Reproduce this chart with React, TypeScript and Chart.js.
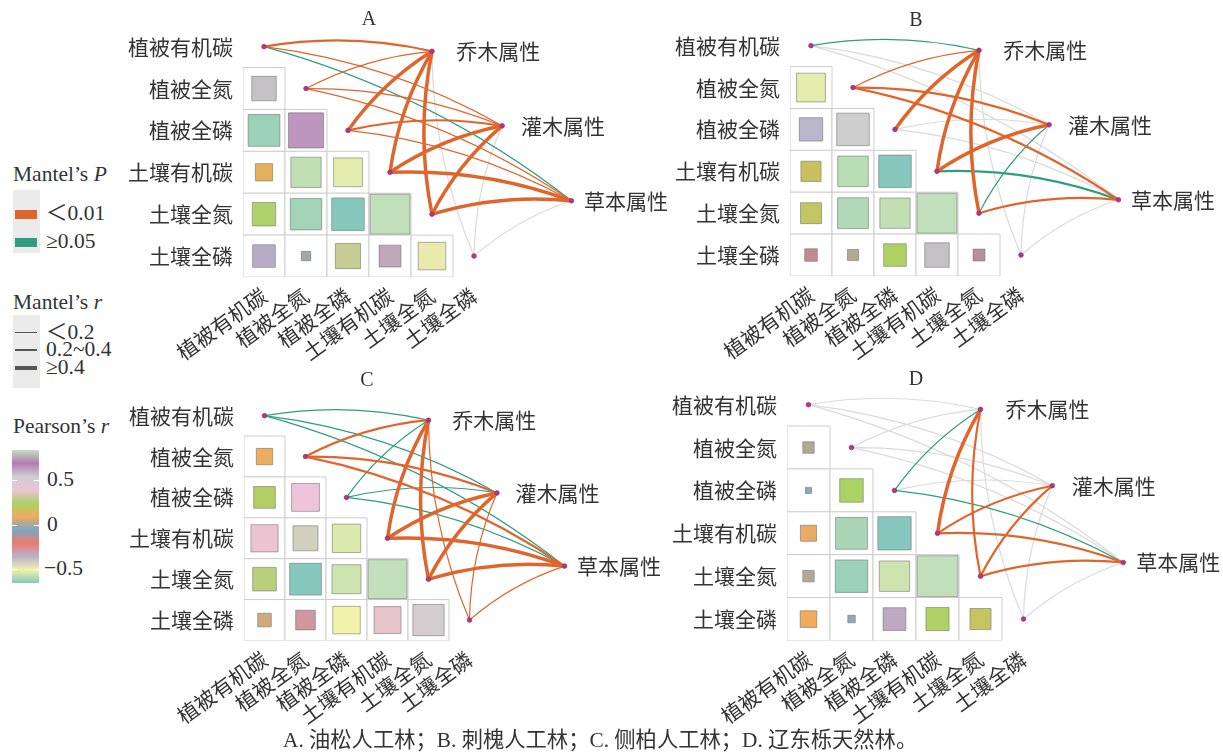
import React, { useEffect, useRef } from "react";
import { Chart, registerables } from "chart.js";

Chart.register(...registerables);

// ---------------- data ----------------
const ENV_VARS = ["植被有机碳", "植被全氮", "植被全磷", "土壤有机碳", "土壤全氮", "土壤全磷"];
const TARGETS = ["乔木属性", "灌木属性", "草本属性"];
const PANEL_TITLES = ["A", "B", "C", "D"];
const CAPTION = "A. 油松人工林；B. 刺槐人工林；C. 侧柏人工林；D. 辽东栎天然林。";

// Pearson's r, lower triangle read row by row:
// (全氮,有机碳) (全磷,有机碳) (全磷,全氮) (土壤有机碳,…×3) (土壤全氮,…×4) (土壤全磷,…×5)
const PEARSON_A = [-0.34, -0.57, 0.7, 0.17, -0.52, -0.47, 0.31, -0.56, -0.6, 0.9, -0.29, 0.05, 0.36, -0.27, -0.43];
const PEARSON_B = [-0.47, -0.31, 0.6, 0.23, -0.53, -0.6, 0.25, -0.54, -0.52, 0.9, -0.09, 0.07, 0.29, -0.34, -0.08];
const PEARSON_C = [0.16, 0.28, 0.46, 0.44, -0.37, -0.48, 0.33, -0.6, -0.5, 0.9, 0.11, -0.23, -0.45, 0.43, 0.58];
const PEARSON_D = [0.07, 0.02, 0.3, 0.14, -0.55, -0.6, 0.07, -0.57, -0.5, 0.9, 0.15, 0.03, -0.28, 0.29, 0.24];

// Mantel tests: for each environment variable, links to 乔木 / 灌木 / 草本
const MANTEL_P_A = [
  "<0.01", "<0.01", "≥0.05",
  "<0.01", "<0.01", "<0.01",
  "<0.01", "<0.01", "<0.01",
  "<0.01", "<0.01", "<0.01",
  "<0.01", "<0.01", "<0.01",
  "ns", "ns", "ns",
];
const MANTEL_R_A = [
  "0.2~0.4", "<0.2", "<0.2",
  "<0.2", "<0.2", "<0.2",
  "≥0.4", "0.2~0.4", "<0.2",
  "≥0.4", "≥0.4", "≥0.4",
  "≥0.4", "≥0.4", "≥0.4",
  "<0.2", "<0.2", "<0.2",
];
const MANTEL_P_B = [
  "≥0.05", "ns", "ns",
  "<0.01", "<0.01", "<0.01",
  "<0.01", "ns", "ns",
  "<0.01", "<0.01", "≥0.05",
  "<0.01", "≥0.05", "<0.01",
  "ns", "ns", "ns",
];
const MANTEL_R_B = [
  "<0.2", "<0.2", "<0.2",
  "<0.2", "0.2~0.4", "0.2~0.4",
  "≥0.4", "<0.2", "<0.2",
  "≥0.4", "≥0.4", "0.2~0.4",
  "≥0.4", "<0.2", "0.2~0.4",
  "<0.2", "<0.2", "<0.2",
];
const MANTEL_P_C = [
  "≥0.05", "≥0.05", "≥0.05",
  "<0.01", "<0.01", "<0.01",
  "≥0.05", "≥0.05", "≥0.05",
  "<0.01", "<0.01", "<0.01",
  "<0.01", "<0.01", "<0.01",
  "<0.01", "<0.01", "<0.01",
];
const MANTEL_R_C = [
  "<0.2", "<0.2", "<0.2",
  "0.2~0.4", "0.2~0.4", "0.2~0.4",
  "<0.2", "<0.2", "<0.2",
  "≥0.4", "≥0.4", "≥0.4",
  "≥0.4", "≥0.4", "≥0.4",
  "<0.2", "<0.2", "<0.2",
];
const MANTEL_P_D = [
  "ns", "ns", "ns",
  "ns", "ns", "ns",
  "≥0.05", "ns", "≥0.05",
  "<0.01", "<0.01", "<0.01",
  "<0.01", "<0.01", "<0.01",
  "ns", "ns", "ns",
];
const MANTEL_R_D = [
  "<0.2", "<0.2", "<0.2",
  "<0.2", "<0.2", "<0.2",
  "<0.2", "<0.2", "<0.2",
  "≥0.4", "0.2~0.4", "0.2~0.4",
  "0.2~0.4", "0.2~0.4", "0.2~0.4",
  "<0.2", "<0.2", "<0.2",
];

const COLORBAR_TICKS = [0.5, 0, -0.5];

const PANELS = [
  { pearson: PEARSON_A, p: MANTEL_P_A, r: MANTEL_R_A },
  { pearson: PEARSON_B, p: MANTEL_P_B, r: MANTEL_R_B },
  { pearson: PEARSON_C, p: MANTEL_P_C, r: MANTEL_R_C },
  { pearson: PEARSON_D, p: MANTEL_P_D, r: MANTEL_R_D },
];

// ---------------- layout & style ----------------
// node positions for the three plant groups, in grid units of the heatmap
const TARGET_POS = [
  [4.0, 0.11],
  [5.67, 1.89],
  [7.32, 3.68],
];
const TARGET_LABEL_X = [4.58, 6.12, 7.62];
const PANEL_LAYOUT = [
  { ox: 264.3, oy: 45.7, u: 42, right: 690, titleY: -0.64 },
  { ox: 811, oy: 45, u: 42, right: 1223, titleY: -0.6 },
  { ox: 264, oy: 415.3, u: 41, right: 690, titleY: -0.86 },
  { ox: 808.7, oy: 404.3, u: 43, right: 1223, titleY: -0.57 },
];
const WY = 130;
const PAD_TOP = 4;
const HX = 95;
const X_MAX = 9;
const CURVE = 0.1;

const PALETTE = ["#8DD3C7", "#FFFFB3", "#BEBADA", "#FB8072", "#80B1D3", "#FDB462", "#B3DE69", "#FCCDE5", "#D9D9D9", "#BC80BD", "#CCEBC5"];
const SHADE = 0.95;
const R_MIN = -0.6;
const R_MAX = 0.9;
const P_COLORS: Record<string, string> = { "<0.01": "#e0652c", "≥0.05": "#2f9e7f", ns: "#dadada" };
const R_WIDTHS: Record<string, number> = { "<0.2": 1.2, "0.2~0.4": 2.2, "≥0.4": 3.5 };
const CJK = '"Noto Sans CJK SC", "Liberation Serif", sans-serif';
const SERIF = '"Liberation Serif", "Noto Sans CJK SC", serif';
const TEXT = "#333";

function hexToRgb(h: string) {
  const n = parseInt(h.slice(1), 16);
  return [(n >> 16) & 255, (n >> 8) & 255, n & 255];
}
function shaded(rgb: number[]) {
  return `rgb(${rgb.map((v) => Math.round(v * SHADE)).join(",")})`;
}
function colorFor(r: number) {
  const t = Math.min(1, Math.max(0, (r - R_MIN) / (R_MAX - R_MIN))) * (PALETTE.length - 1);
  const i = Math.min(PALETTE.length - 2, Math.floor(t));
  const f = t - i;
  const a = hexToRgb(PALETTE[i]);
  const b = hexToRgb(PALETTE[i + 1]);
  return shaded(a.map((v, k) => v + (b[k] - v) * f));
}

function makePlugin(index: number) {
  const panel = PANELS[index];
  const lay = PANEL_LAYOUT[index];
  return {
    id: "mantelLinks" + index,
    beforeDatasetsDraw(chart: any) {
      const { ctx } = chart;
      const xs = chart.scales.x;
      const ys = chart.scales.y;
      ctx.save();
      ctx.lineCap = "round";
      for (const cat of ["ns", "≥0.05", "<0.01"]) {
        ENV_VARS.forEach((_, i) => {
          TARGETS.forEach((__, k) => {
            const idx = i * TARGETS.length + k;
            if (panel.p[idx] !== cat) return;
            const x0 = xs.getPixelForValue(i);
            const y0 = ys.getPixelForValue(i);
            const x1 = xs.getPixelForValue(TARGET_POS[k][0]);
            const y1 = ys.getPixelForValue(TARGET_POS[k][1]);
            const dx = x1 - x0;
            const dy = y1 - y0;
            const len = Math.hypot(dx, dy) || 1;
            const cx = (x0 + x1) / 2 + (dy / len) * CURVE * len;
            const cy = (y0 + y1) / 2 - (dx / len) * CURVE * len;
            ctx.beginPath();
            ctx.moveTo(x0, y0);
            ctx.quadraticCurveTo(cx, cy, x1, y1);
            ctx.strokeStyle = P_COLORS[cat];
            ctx.lineWidth = R_WIDTHS[panel.r[idx]];
            ctx.stroke();
          });
        });
      }
      ctx.restore();
    },
    afterDraw(chart: any) {
      const { ctx } = chart;
      const xs = chart.scales.x;
      const ys = chart.scales.y;
      ctx.save();
      ctx.fillStyle = TEXT;
      ctx.textBaseline = "middle";
      ctx.textAlign = "left";
      ctx.font = `21px ${CJK}`;
      TARGETS.forEach((name, k) => {
        ctx.fillText(name, xs.getPixelForValue(TARGET_LABEL_X[k]), ys.getPixelForValue(TARGET_POS[k][1]));
      });
      ctx.textAlign = "center";
      ctx.font = `20px ${SERIF}`;
      ctx.fillText(PANEL_TITLES[index], xs.getPixelForValue(2.5), ys.getPixelForValue(lay.titleY));
      ctx.restore();
    },
  };
}

function Panel({ index }: { index: number }) {
  const ref = useRef<HTMLCanvasElement | null>(null);
  const lay = PANEL_LAYOUT[index];
  const L = Math.round(lay.ox - 0.5 * lay.u - WY);
  const T = Math.round(lay.oy - lay.u - PAD_TOP);
  const W = lay.right - L;
  const H = Math.round(PAD_TOP + 6.5 * lay.u + HX);
  const hx = H - PAD_TOP - 6.5 * lay.u;
  const padRight = W - WY - (X_MAX + 0.5) * lay.u;

  useEffect(() => {
    const panel = PANELS[index];
    const cells: { x: number; y: number; r: number }[] = [];
    let k = 0;
    for (let i = 1; i < ENV_VARS.length; i++) {
      for (let j = 0; j < i; j++) cells.push({ x: j, y: i, r: panel.pearson[k++] });
    }
    const boxes = cells.map((c) => ({ ...c }));
    const unitPx = (c: any) => Math.abs(c.scales.x.getPixelForValue(1) - c.scales.x.getPixelForValue(0));
    const nodes = ENV_VARS.map((_, i) => ({ x: i, y: i }));
    const targets = TARGET_POS.map(([x, y]) => ({ x, y }));
    const chart = new Chart(ref.current as HTMLCanvasElement, {
      type: "scatter",
      data: {
        datasets: [
          {
            order: 3,
            data: boxes,
            pointStyle: "rect",
            pointRadius: (ctx: any) => unitPx(ctx.chart) / Math.SQRT2,
            pointBackgroundColor: "#ffffff",
            pointBorderColor: "#cdcdcd",
            pointBorderWidth: 1,
          },
          {
            order: 2,
            data: cells,
            pointStyle: "rect",
            pointRadius: (ctx: any) =>
              ctx.raw ? (unitPx(ctx.chart) * Math.sqrt(Math.abs(ctx.raw.r))) / Math.SQRT2 : 0,
            pointBackgroundColor: (ctx: any) => (ctx.raw ? colorFor(ctx.raw.r) : "#fff"),
            pointBorderColor: "rgba(110,110,110,0.55)",
            pointBorderWidth: 1,
          },
          {
            order: 1,
            data: nodes,
            pointStyle: "circle",
            pointRadius: 2.3,
            pointBackgroundColor: "#c8306a",
            pointBorderColor: "#7a3c9a",
            pointBorderWidth: 0.8,
          },
          {
            order: 0,
            data: targets,
            pointStyle: "circle",
            pointRadius: 2.3,
            pointBackgroundColor: "#c8306a",
            pointBorderColor: "#7a3c9a",
            pointBorderWidth: 0.8,
          },
        ] as any,
      },
      options: {
        responsive: false,
        animation: false,
        events: [],
        layout: { padding: { left: 0, top: PAD_TOP, right: padRight, bottom: 0 } },
        plugins: { legend: { display: false }, tooltip: { enabled: false } },
        scales: {
          x: {
            type: "linear",
            min: -0.5,
            max: X_MAX,
            grid: { display: false, drawTicks: false },
            border: { display: false },
            afterBuildTicks: (s: any) => {
              s.ticks = ENV_VARS.map((_, i) => ({ value: i }));
            },
            afterFit: (s: any) => {
              s.height = hx;
              s.paddingLeft = 0;
              s.paddingRight = 0;
            },
            ticks: {
              autoSkip: false,
              minRotation: 36,
              maxRotation: 36,
              padding: 6,
              color: TEXT,
              font: { family: CJK, size: 21 },
              callback: (v: any) => ENV_VARS[v as number] ?? "",
            },
          },
          y: {
            type: "linear",
            reverse: true,
            min: -1,
            max: 5.5,
            grid: { display: false, drawTicks: false },
            border: { display: false },
            afterBuildTicks: (s: any) => {
              s.ticks = ENV_VARS.map((_, i) => ({ value: i }));
            },
            afterFit: (s: any) => {
              s.width = WY;
              s.paddingTop = 0;
              s.paddingBottom = 0;
            },
            ticks: {
              padding: 10,
              color: TEXT,
              font: { family: CJK, size: 21 },
              callback: (v: any) => ENV_VARS[v as number] ?? "",
            },
          },
        },
      } as any,
      plugins: [makePlugin(index)],
    });
    return () => chart.destroy();
  }, [index]);

  return (
    <canvas
      ref={ref}
      width={W}
      height={H}
      style={{ position: "absolute", left: L, top: T, width: W, height: H }}
    />
  );
}

function Label({ x, y, size = 21.5, children }: { x: number; y: number; size?: number; children: any }) {
  return (
    <div
      style={{
        position: "absolute",
        left: x,
        top: y - size * 0.6,
        fontSize: size,
        lineHeight: `${size * 1.2}px`,
        fontFamily: SERIF,
        color: TEXT,
        whiteSpace: "nowrap",
      }}
    >
      {children}
    </div>
  );
}

function Legend() {
  const barTop = 450;
  const barBottom = 583;
  const tickY: Record<string, number> = { "0.5": 480, "0": 525, "-0.5": 569 };
  const gradient =
    "linear-gradient(to top, " +
    PALETTE.map((c, i) => `${shaded(hexToRgb(c))} ${((i / (PALETTE.length - 1)) * 100).toFixed(1)}%`).join(", ") +
    ")";
  return (
    <>
      <Label x={13} y={175}>
        Mantel’s <i>P</i>
      </Label>
      <div style={{ position: "absolute", left: 13, top: 190, width: 27, height: 63, background: "#ebebeb" }} />
      <div style={{ position: "absolute", left: 15, top: 209.5, width: 22, height: 9.5, background: P_COLORS["<0.01"] }} />
      <div style={{ position: "absolute", left: 15, top: 237.5, width: 22, height: 9.5, background: P_COLORS["≥0.05"] }} />
      <Label x={46} y={214}>＜0.01</Label>
      <Label x={46} y={242}>≥0.05</Label>

      <Label x={13} y={303}>
        Mantel’s <i>r</i>
      </Label>
      <div style={{ position: "absolute", left: 13, top: 315, width: 27, height: 73, background: "#ebebeb" }} />
      {(["<0.2", "0.2~0.4", "≥0.4"] as const).map((k, i) => {
        const cy = [332.5, 350, 368][i];
        const w = R_WIDTHS[k] + 0.2;
        return (
          <React.Fragment key={k}>
            <div style={{ position: "absolute", left: 15, top: cy - w / 2, width: 22, height: w, background: "#555" }} />
            <Label x={46} y={cy}>{k === "<0.2" ? "＜0.2" : k}</Label>
          </React.Fragment>
        );
      })}

      <Label x={13} y={427}>
        Pearson’s <i>r</i>
      </Label>
      <div
        style={{ position: "absolute", left: 12, top: barTop, width: 27, height: barBottom - barTop, background: gradient }}
      />
      {COLORBAR_TICKS.map((v) => {
        const y = tickY[String(v)];
        return (
          <React.Fragment key={v}>
            <div style={{ position: "absolute", left: 12, top: y - 0.5, width: 5, height: 1, background: "#fff" }} />
            <div style={{ position: "absolute", left: 34, top: y - 0.5, width: 5, height: 1, background: "#fff" }} />
            <Label x={v < 0 ? 44 : 47} y={y}>{v < 0 ? "−" + Math.abs(v) : String(v)}</Label>
          </React.Fragment>
        );
      })}
    </>
  );
}

export default function App() {
  return (
    <div
      style={{
        position: "absolute",
        left: 0,
        top: 0,
        width: 1223,
        height: 754,
        overflow: "hidden",
        background: "#ffffff",
      }}
    >
      <Legend />
      {PANELS.map((_, i) => (
        <Panel key={i} index={i} />
      ))}
      <Label x={283} y={741} size={21.3}>
        {CAPTION}
      </Label>
    </div>
  );
}
